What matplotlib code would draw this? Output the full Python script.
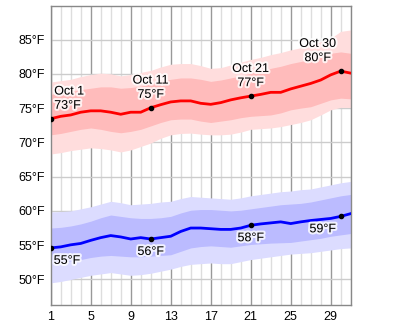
import matplotlib.pyplot as plt
import matplotlib.patheffects as pe

days = list(range(1, 32))

# daily highs: median line plus 10/25/75/90 percentile bands
high_mid = [73.45, 73.8, 74.0, 74.4, 74.6, 74.6, 74.4, 74.1, 74.4, 74.4,
            75.05, 75.5, 75.9, 76.05, 76.05, 75.7, 75.55, 75.8, 76.2, 76.5,
            76.75, 77.0, 77.3, 77.3, 77.8, 78.2, 78.6, 79.1, 79.85, 80.4, 80.1]
high_p90 = [78.8, 79.0, 79.2, 79.6, 79.9, 80.1, 80.0, 79.7, 79.9, 80.2,
            80.5, 81.0, 81.4, 81.5, 81.5, 81.2, 80.8, 80.9, 81.3, 81.7,
            82.1, 82.4, 82.8, 83.1, 83.5, 83.8, 84.2, 84.7, 85.2, 86.2, 86.4]
high_p75 = [77.0, 77.2, 77.4, 77.7, 77.9, 78.1, 78.1, 77.9, 78.0, 78.2,
            78.6, 78.9, 79.2, 79.4, 79.4, 79.2, 78.9, 79.1, 79.4, 79.7,
            80.1, 80.4, 80.8, 81.1, 81.5, 81.8, 82.1, 82.6, 83.0, 83.2, 83.0]
high_p25 = [71.1, 71.3, 71.6, 71.9, 72.1, 71.9, 71.6, 71.4, 71.6, 71.9,
            72.4, 72.9, 73.3, 73.4, 73.4, 73.1, 72.9, 73.1, 73.3, 73.6,
            73.8, 73.9, 74.0, 74.3, 74.75, 75.0, 75.2, 75.7, 76.2, 76.45, 76.35]
high_p10 = [68.3, 68.5, 68.8, 69.0, 69.2, 69.1, 68.9, 68.6, 68.9, 69.4,
            69.9, 70.6, 71.1, 71.3, 71.35, 71.2, 71.1, 71.1, 71.2, 71.5,
            71.9, 72.0, 72.1, 72.3, 72.6, 72.9, 73.3, 74.0, 74.75, 75.1, 75.1]

# daily lows
low_mid = [54.6, 54.75, 55.05, 55.25, 55.7, 56.1, 56.4, 56.2, 55.9, 56.1,
           55.9, 56.1, 56.3, 57.0, 57.5, 57.5, 57.4, 57.3, 57.3, 57.5,
           57.9, 58.1, 58.25, 58.4, 58.15, 58.4, 58.6, 58.75, 58.9, 59.2, 59.6]
low_p90 = [59.85, 59.9, 60.0, 60.3, 60.6, 61.0, 61.4, 61.2, 60.9, 61.0,
           61.1, 61.3, 61.4, 61.8, 62.1, 62.0, 61.9, 61.8, 61.7, 61.9,
           62.2, 62.4, 62.6, 62.8, 62.9, 63.1, 63.2, 63.5, 63.8, 64.1, 64.3]
low_p75 = [57.5, 57.6, 57.8, 58.1, 58.5, 59.0, 59.4, 59.2, 59.0, 58.9,
           58.9, 59.0, 59.2, 59.7, 60.1, 60.2, 60.2, 60.1, 60.0, 60.1,
           60.3, 60.5, 60.7, 60.9, 61.0, 61.1, 61.3, 61.6, 61.9, 62.2, 62.4]
low_p25 = [52.5, 52.6, 52.7, 52.9, 53.2, 53.4, 53.5, 53.4, 53.3, 53.3,
           53.4, 53.5, 53.6, 54.1, 54.6, 54.8, 54.9, 54.8, 54.7, 54.9,
           55.1, 55.2, 55.3, 55.35, 55.4, 55.6, 55.8, 56.0, 56.3, 56.5, 56.7]
low_p10 = [49.5, 49.7, 50.0, 50.3, 50.6, 50.8, 51.0, 50.8, 50.6, 50.7,
           50.9, 51.2, 51.5, 51.9, 52.2, 52.3, 52.4, 52.3, 52.3, 52.6,
           52.9, 53.1, 53.3, 53.5, 53.7, 53.8, 53.9, 54.1, 54.3, 54.5, 54.6]

# marked days (index into days)
marks = [0, 10, 20, 29]

plt.rcParams['font.family'] = ['Liberation Sans', 'DejaVu Sans']

fig = plt.figure(figsize=(4.0, 3.29), dpi=100)
ax = fig.add_axes([0.1268, 0.0715, 0.75, 0.9103])
ax.set_xlim(1, 31)
ax.set_ylim(46.2, 89.9)

# grid
for d in days:
    major = (d - 1) % 4 == 0
    ax.axvline(d, color='#999999' if major else '#dddddd', lw=1, zorder=0)
for t in range(50, 90, 5):
    ax.axhline(t, color='#cccccc', lw=1, zorder=0)

ax.fill_between(days, high_p10, high_p90, color='#ffdddd', lw=0, zorder=1)
ax.fill_between(days, high_p25, high_p75, color='#ffbbbb', lw=0, zorder=1)
ax.fill_between(days, low_p10, low_p90, color='#dcdcff', lw=0, zorder=1)
ax.fill_between(days, low_p25, low_p75, color='#bbbbff', lw=0, zorder=1)

ax.plot(days, high_mid, color='#ff0000', lw=2, zorder=3)
ax.plot(days, low_mid, color='#0000ff', lw=2, zorder=3)

mx = [days[i] for i in marks]
ax.scatter(mx, [high_mid[i] for i in marks], s=9, color='black', zorder=4)
ax.scatter(mx, [low_mid[i] for i in marks], s=9, color='black', zorder=4)

halo = [pe.withStroke(linewidth=3, foreground='white', alpha=0.8)]

# label placement per mark: (x shift in days, horizontal alignment)
high_pos = [(0.35, 'left'), (0, 'center'), (0, 'center'), (-2.3, 'center')]
low_pos = [(0.3, 'left'), (0, 'center'), (0, 'center'), (-1.8, 'center')]

for i, (dx, ha) in zip(marks, high_pos):
    d = days[i]
    txt = 'Oct %d\n%d°F' % (d, round(high_mid[i]))
    ax.annotate(txt, (d + dx, high_mid[i]), xytext=(0, 5), textcoords='offset points',
                ha=ha, va='bottom', fontsize=9, linespacing=1.25,
                path_effects=halo, zorder=5)

for i, (dx, ha) in zip(marks, low_pos):
    d = days[i]
    txt = '%d°F' % round(low_mid[i])
    ax.annotate(txt, (d + dx, low_mid[i]), xytext=(0, -5), textcoords='offset points',
                ha=ha, va='top', fontsize=9, path_effects=halo, zorder=5)

ax.set_xticks(list(range(1, 30, 4)))
ax.set_yticks(list(range(50, 90, 5)))
ax.set_yticklabels(['%d°F' % t for t in range(50, 90, 5)])
ax.tick_params(length=0, labelsize=9, pad=4, colors='black')
for s in ax.spines.values():
    s.set_color('#888888')
    s.set_linewidth(1)

fig.savefig('out.png', dpi=100)
